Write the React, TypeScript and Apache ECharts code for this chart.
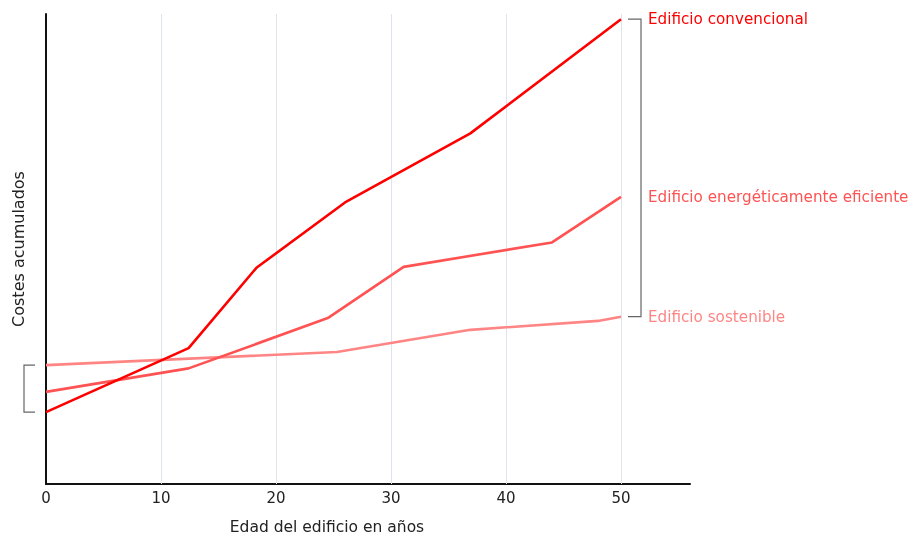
import React, { useEffect, useRef } from "react";
import * as echarts from "echarts";

// Building age (years) and relative accumulated cost for each building type
const convencionalX = [0, 12.4, 18.3, 26.0, 36.9, 50];
const convencionalY = [15.3, 28.9, 46.0, 59.9, 74.6, 98.9];

const eficienteX = [0, 12.4, 24.5, 31.1, 44.0, 50];
const eficienteY = [19.6, 24.6, 35.3, 46.2, 51.4, 61.1];

const sostenibleX = [0, 25.3, 36.9, 48.0, 50];
const sostenibleY = [25.3, 28.1, 32.8, 34.7, 35.6];

const seriesNames = [
  "Edificio convencional",
  "Edificio energéticamente eficiente",
  "Edificio sostenible",
];
const seriesColors = ["#ff0000", "#ff5252", "#ff8585"];

const gridTicks = [10, 20, 30, 40, 50];
const xMax = 56;

const FONT = "'DejaVu Sans', sans-serif";

const zip = (xs: number[], ys: number[]) => xs.map((x, i) => [x, ys[i]]);

export default function App() {
  const ref = useRef<HTMLDivElement>(null);

  useEffect(() => {
    if (!ref.current) return;
    const chart = echarts.init(ref.current, undefined, { renderer: "svg" });

    const datasets = [
      zip(convencionalX, convencionalY),
      zip(eficienteX, eficienteY),
      zip(sostenibleX, sostenibleY),
    ];

    chart.setOption({
      animation: false,
      grid: { left: 46, right: 226, top: 14, bottom: 53, outerBoundsMode: "none" },
      xAxis: {
        type: "value",
        min: 0,
        max: xMax,
        interval: 10,
        name: "Edad del edificio en años",
        nameLocation: "middle",
        nameGap: 35,
        nameTextStyle: {
          fontFamily: FONT,
          fontSize: 15.5,
          color: "#222",
          padding: [0, 82, 0, 0],
        },
        axisLine: { lineStyle: { color: "#111", width: 2 } },
        axisTick: { show: false },
        splitLine: { show: false },
        axisLabel: {
          fontFamily: FONT,
          fontSize: 15,
          color: "#222",
          margin: 6,
          formatter: (v: number) => (v % 10 === 0 ? String(v) : ""),
        },
      },
      yAxis: {
        type: "value",
        min: 0,
        max: 100,
        name: "Costes acumulados",
        nameLocation: "middle",
        nameGap: 20,
        nameTextStyle: { fontFamily: FONT, fontSize: 16, color: "#222" },
        axisLine: { show: true, lineStyle: { color: "#111", width: 2 } },
        axisTick: { show: false },
        axisLabel: { show: false },
        splitLine: { show: false },
      },
      series: datasets.map((data, i) => ({
        type: "line",
        name: seriesNames[i],
        data,
        symbol: "none",
        z: 3 + (2 - i),
        lineStyle: { color: seriesColors[i], width: 2.6 },
        endLabel: {
          show: true,
          formatter: seriesNames[i],
          color: seriesColors[i],
          fontFamily: FONT,
          fontSize: 15.2,
          distance: 27,
        },
        markLine:
          i === 0
            ? {
                silent: true,
                symbol: "none",
                label: { show: false },
                lineStyle: { color: "#dfe4ec", width: 1, type: "solid" },
                z: 1,
                data: gridTicks.map((t) => ({ xAxis: t })),
              }
            : undefined,
      })),
    });

    // Brackets linking the end values (right) and the start values (left)
    const topRight = chart.convertToPixel({ gridIndex: 0 }, [50, convencionalY[convencionalY.length - 1]]);
    const botRight = chart.convertToPixel({ gridIndex: 0 }, [50, sostenibleY[sostenibleY.length - 1]]);
    const topLeft = chart.convertToPixel({ gridIndex: 0 }, [0, sostenibleY[0]]);
    const botLeft = chart.convertToPixel({ gridIndex: 0 }, [0, convencionalY[0]]);

    const rx0 = topRight[0] + 7;
    const rx1 = topRight[0] + 20;
    const lx1 = topLeft[0] - 11;
    const lx0 = topLeft[0] - 22;
    const stroke = { stroke: "#666", lineWidth: 1.2, fill: "none" };

    chart.setOption({
      graphic: [
        {
          type: "polyline",
          shape: {
            points: [
              [rx0, topRight[1]],
              [rx1, topRight[1]],
              [rx1, botRight[1]],
              [rx0, botRight[1]],
            ],
          },
          style: stroke,
        },
        {
          type: "polyline",
          shape: {
            points: [
              [lx1, topLeft[1]],
              [lx0, topLeft[1]],
              [lx0, botLeft[1]],
              [lx1, botLeft[1]],
            ],
          },
          style: stroke,
        },
      ],
    });

    return () => chart.dispose();
  }, []);

  return (
    <div
      ref={ref}
      style={{ position: "fixed", left: 0, top: 0, width: 916, height: 537 }}
    />
  );
}
